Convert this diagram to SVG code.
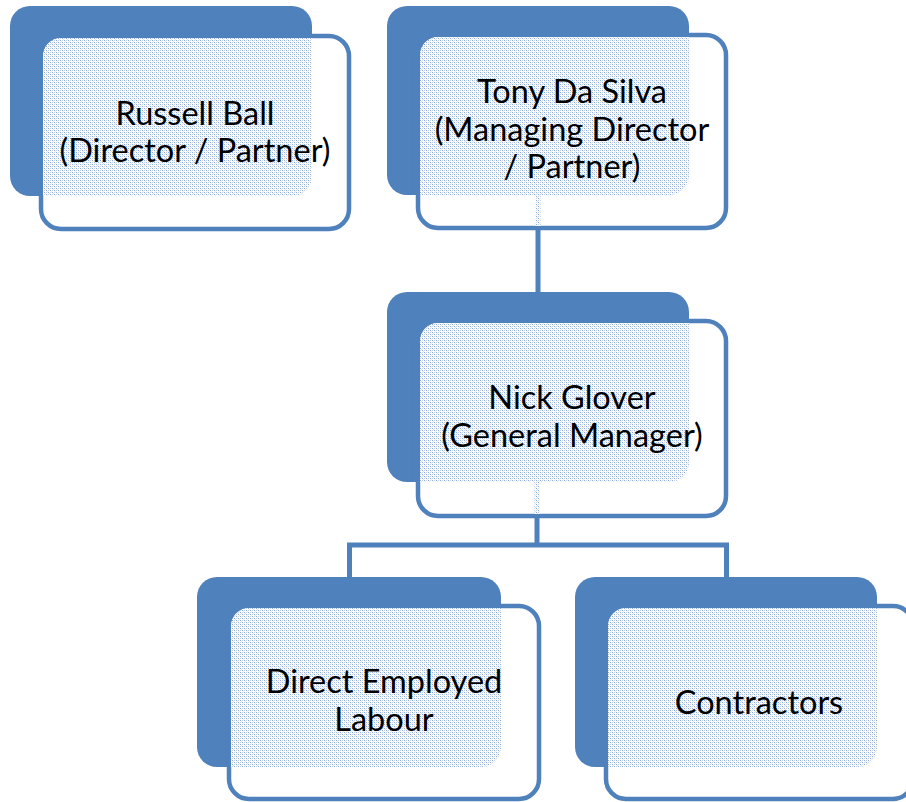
<svg xmlns="http://www.w3.org/2000/svg" width="906" height="802" viewBox="0 0 906 802">
  <defs>
    <pattern id="dots" width="4" height="4" patternUnits="userSpaceOnUse">
      <rect width="4" height="4" fill="#ffffff"/>
      <rect x="0" y="0" width="1" height="1" fill="#8eaad6"/>
      <rect x="2" y="2" width="1" height="1" fill="#8eaad6"/>
      <rect x="2" y="0" width="1" height="1" fill="#c3d3ea"/>
      <rect x="0" y="2" width="1" height="1" fill="#c3d3ea"/>
      <rect x="1" y="1" width="1" height="1" fill="#dfe8f4"/>
      <rect x="3" y="3" width="1" height="1" fill="#dfe8f4"/>
    </pattern>
    <clipPath id="c1"><rect x="43" y="38" width="304" height="189" rx="18"/></clipPath>
    <clipPath id="c2"><rect x="420" y="37" width="304" height="189" rx="18"/></clipPath>
    <clipPath id="c3"><rect x="420" y="323" width="304" height="191" rx="18"/></clipPath>
    <clipPath id="c4"><rect x="231" y="608" width="306" height="189" rx="18"/></clipPath>
    <clipPath id="c5"><rect x="608" y="608" width="303" height="189" rx="18"/></clipPath>
  </defs>
  <style>
    .back { fill: #4f81bd; }
    .front { fill: #ffffff; stroke: #4f81bd; stroke-width: 4.5; }
    .dot { fill: url(#dots); }
    .conn { fill: none; stroke: #4f81bd; stroke-width: 5; }
    .lbl { font-family: Lato, "Liberation Sans", sans-serif; font-size: 32.5px; fill: #000000; text-anchor: middle; }
  </style>

  <g id="connectors">
    <line class="conn" x1="538" y1="228" x2="538" y2="294"/>
    <line class="conn" x1="537" y1="516" x2="537" y2="545"/>
    <polyline class="conn" points="349.5,579 349.5,545 726.5,545 726.5,579"/>
  </g>

  <g id="node-russell">
    <rect class="back" x="10" y="6" width="302" height="190" rx="20"/>
    <rect class="front" x="41" y="36" width="308" height="193" rx="20"/>
    <rect class="dot" x="10" y="6" width="302" height="190" rx="20" clip-path="url(#c1)"/>
    <text class="lbl"><tspan x="195" y="125">Russell Ball</tspan><tspan x="195" y="162">(Director / Partner)</tspan></text>
  </g>

  <g id="node-tony">
    <rect class="back" x="387" y="6" width="302" height="189" rx="20"/>
    <rect class="front" x="418" y="35" width="308" height="193" rx="20"/>
    <rect class="dot" x="387" y="6" width="302" height="189" rx="20" clip-path="url(#c2)"/>
    <rect class="dot" x="535.5" y="195" width="5" height="31"/>
    <text class="lbl"><tspan x="572" y="103">Tony Da Silva</tspan><tspan x="572" y="141">(Managing Director</tspan><tspan x="572" y="178">/ Partner)</tspan></text>
  </g>

  <g id="node-nick">
    <rect class="back" x="387" y="292" width="302" height="190" rx="20"/>
    <rect class="front" x="418" y="321" width="308" height="195" rx="20"/>
    <rect class="dot" x="387" y="292" width="302" height="190" rx="20" clip-path="url(#c3)"/>
    <rect class="dot" x="534.5" y="482" width="5" height="32"/>
    <text class="lbl"><tspan x="572" y="409">Nick Glover</tspan><tspan x="572" y="447">(General Manager)</tspan></text>
  </g>

  <g id="node-direct">
    <rect class="back" x="197" y="577" width="304" height="190" rx="20"/>
    <rect class="front" x="229" y="606" width="310" height="193" rx="20"/>
    <rect class="dot" x="197" y="577" width="304" height="190" rx="20" clip-path="url(#c4)"/>
    <text class="lbl"><tspan x="384" y="693">Direct Employed</tspan><tspan x="384" y="731">Labour</tspan></text>
  </g>

  <g id="node-contractors">
    <rect class="back" x="575" y="577" width="302" height="190" rx="20"/>
    <rect class="front" x="606" y="606" width="307" height="193" rx="20"/>
    <rect class="dot" x="575" y="577" width="302" height="190" rx="20" clip-path="url(#c5)"/>
    <text class="lbl"><tspan x="759" y="714">Contractors</tspan></text>
  </g>
</svg>
